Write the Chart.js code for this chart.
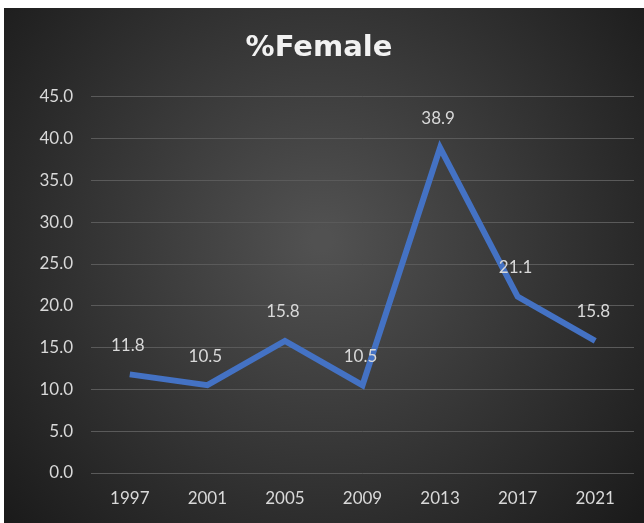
<!DOCTYPE html>
<html>
<head>
<meta charset="utf-8">
<script src="https://cdn.jsdelivr.net/npm/chart.js@4"></script>
<style>
  html, body { margin: 0; padding: 0; background: #fff; }
  #wrap { width: 644px; height: 523px; }
</style>
</head>
<body>
<div id="wrap"><canvas id="femaleChart" width="644" height="523"></canvas></div>
<script>
const years = ['1997', '2001', '2005', '2009', '2013', '2017', '2021'];
const pctFemale = [11.8, 10.5, 15.8, 10.5, 38.9, 21.1, 15.8];
const yTicks = [0, 5, 10, 15, 20, 25, 30, 35, 40, 45];

const FONT = 'Lato, "Open Sans", sans-serif';

// dark radial background, white margin top/left like the screenshot
const backdrop = {
    id: 'backdrop',
    beforeDraw(chart) {
        let ctx = chart.ctx;
        ctx.save();
        ctx.fillStyle = '#ffffff';
        ctx.fillRect(0, 0, chart.width, chart.height);
        let g = ctx.createRadialGradient(322, 240, 10, 322, 240, 420);
        g.addColorStop(0, '#515151');
        g.addColorStop(1, '#1b1b1b');
        ctx.fillStyle = g;
        ctx.fillRect(4, 8, chart.width - 4, chart.height - 8);
        ctx.restore();
    }
};

// value labels above each point
const valueLabels = {
    id: 'valueLabels',
    afterDatasetsDraw(chart) {
        let ctx = chart.ctx;
        let meta = chart.getDatasetMeta(0);
        ctx.save();
        ctx.font = '17px ' + FONT;
        ctx.fillStyle = '#d9d9d9';
        ctx.textAlign = 'center';
        ctx.textBaseline = 'middle';
        meta.data.forEach((pt, i) => {
            ctx.fillText(pctFemale[i].toFixed(1), pt.x - 2, pt.y - 29);
        });
        ctx.restore();
    }
};

new Chart(document.getElementById('femaleChart').getContext('2d'), {
    type: 'line',
    data: {
        labels: years,
        datasets: [{
            label: '%Female',
            data: pctFemale,
            borderColor: '#4472c4',
            borderWidth: 6,
            pointRadius: 0,
            tension: 0,
            fill: false
        }]
    },
    options: {
        responsive: false,
        animation: false,
        layout: { padding: { left: 4, top: 8, right: 10, bottom: 0 } },
        plugins: {
            legend: { display: false },
            tooltip: { enabled: false },
            title: {
                display: true,
                text: '%Female',
                color: '#f2f2f2',
                font: { family: '"DejaVu Sans", sans-serif', size: 29, weight: 'bold' },
                padding: { top: 23, bottom: 31 }
            }
        },
        scales: {
            x: {
                offset: true,
                grid: { display: false, drawTicks: false },
                border: { display: false },
                ticks: {
                    color: '#d9d9d9',
                    font: { family: FONT, size: 17 },
                    padding: 15,
                    maxRotation: 0
                },
                afterFit(scale) { scale.height = 50; }
            },
            y: {
                min: 0,
                max: 45,
                afterBuildTicks(scale) { scale.ticks = yTicks.map(v => ({ value: v })); },
                grid: { color: '#5a5a5a', lineWidth: 1, drawTicks: false },
                border: { display: false },
                ticks: {
                    color: '#d9d9d9',
                    font: { family: FONT, size: 17 },
                    padding: 18,
                    callback: v => Number(v).toFixed(1)
                },
                afterFit(scale) { scale.width = 87; }
            }
        }
    },
    plugins: [backdrop, valueLabels]
});
</script>
</body>
</html>
